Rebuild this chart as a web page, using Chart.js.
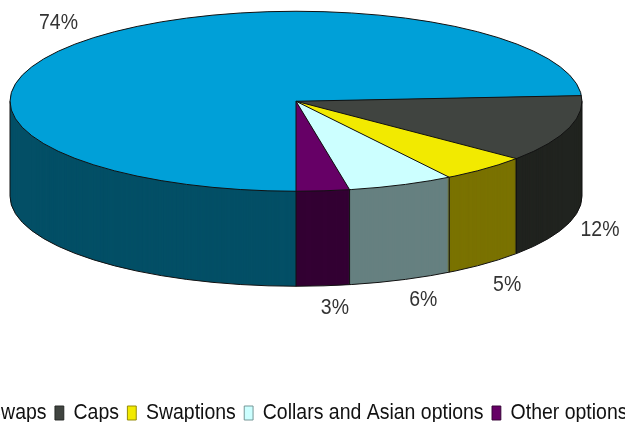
<!DOCTYPE html>
<html>
<head>
<meta charset="utf-8">
<style>
html,body{margin:0;padding:0;background:#fff;overflow:hidden;width:625px;height:422px}
#w{position:absolute;left:-114px;top:-189px;width:820px;height:622px}
canvas{filter:blur(0.35px)}
</style>
<script src="https://cdn.jsdelivr.net/npm/chart.js@4/dist/chart.umd.min.js"></script>
</head>
<body>
<div id="w"><canvas id="c"></canvas></div>
<script>
const categories = ["Swaps","Caps","Swaptions","Collars and Asian options","Other options"];
const shares = [74,12,5,6,3];
const topColors = ["#00a0d8","#404440","#f2ea00","#ccffff","#660066"];
const wallColors = ["#034f66","#20231f","#7a7200","#668080","#330033"];
const edgeColors = ["#00658a","#222522","#8f8700","#6f9090","#330033"];
const labelNudge = [[-29,-17],[32,6],[22,21],[22,20],[12,22]];

const RY_RATIO = 90/286, RX = 286, DEPTH = 95, SQUEEZE = 0.885, LEGEND_SHIFT = 2.5, LEGEND_DROP = 1;
const FONT = '"Liberation Sans",Arial,sans-serif';

const pie3d = {
  id:'pie3d',
  afterInit(chart){
    // the reference's text is horizontally condensed: draw the library's legend squeezed
    const lg = chart.legend, orig = lg.draw;
    lg.draw = function(){
      const ctx = chart.ctx, mid = chart.width/2;
      ctx.save();
      ctx.translate(mid+LEGEND_SHIFT,LEGEND_DROP); ctx.scale(SQUEEZE,1); ctx.translate(-mid,0);
      orig.apply(lg,arguments);
      ctx.restore();
    };
  },
  beforeDatasetDraw(chart,args){
    const ctx = chart.ctx, arcs = args.meta.data;
    const cx = arcs[0].x, cy = arcs[0].y, R = arcs[0].outerRadius;
    const RY = RX*RY_RATIO, sx = RX/R, sy = RY/R;
    const drawLayer = (dy,cols)=>{
      ctx.save();
      ctx.translate(cx,cy+dy); ctx.scale(sx,sy); ctx.translate(-cx,-cy);
      arcs.forEach((a,i)=>{
        const p = Object.create(a);
        p.options = Object.assign({},a.options,{backgroundColor:cols[i],borderColor:cols[i],borderWidth:0});
        a.draw.call(p,ctx);
      });
      ctx.restore();
    };
    for(let d=DEPTH;d>0;d-=1) drawLayer(d,wallColors);
    drawLayer(0,topColors);
    ctx.save();
    ctx.strokeStyle='#111'; ctx.lineWidth=1;
    ctx.beginPath(); ctx.ellipse(cx,cy,RX,RY,0,0,Math.PI*2); ctx.stroke();
    ctx.beginPath(); ctx.ellipse(cx,cy+DEPTH,RX,RY,0,0,Math.PI); ctx.stroke();
    const seg=(x1,y1,x2,y2)=>{ctx.beginPath();ctx.moveTo(x1,y1);ctx.lineTo(x2,y2);ctx.stroke();};
    seg(cx-RX,cy,cx-RX,cy+DEPTH); seg(cx+RX,cy,cx+RX,cy+DEPTH);
    arcs.forEach(a=>{
      const x=cx+RX*Math.cos(a.startAngle), y=cy+RY*Math.sin(a.startAngle);
      seg(cx,cy,x,y);
      if(Math.sin(a.startAngle)>0) seg(x,y,x,y+DEPTH);
    });
    ctx.fillStyle='#333'; ctx.font='22px '+FONT; ctx.textAlign='center'; ctx.textBaseline='middle';
    arcs.forEach((a,i)=>{
      const m=(a.startAngle+a.endAngle)/2;
      const x=cx+RX*Math.cos(m), s=Math.sin(m), y=cy+RY*s+(s>0?DEPTH:0);
      ctx.save();
      ctx.translate(x+labelNudge[i][0],y+labelNudge[i][1]);
      ctx.scale(SQUEEZE,1);
      ctx.fillText(shares[i]+'%',0,0);
      ctx.restore();
    });
    ctx.restore();
    return false;
  }
};

new Chart(document.getElementById('c'),{
  type:'pie',
  data:{labels:categories,datasets:[{data:shares,backgroundColor:topColors,borderColor:edgeColors,borderWidth:1}]},
  options:{
    responsive:true,maintainAspectRatio:false,animation:false,rotation:180,
    plugins:{
      tooltip:{enabled:false},
      legend:{position:'bottom',align:'center',labels:{
        boxWidth:10,boxHeight:14,padding:9.5,color:'#111',
        font:{family:FONT,size:22}
      }}
    }
  },
  plugins:[pie3d]
});
</script>
</body>
</html>
